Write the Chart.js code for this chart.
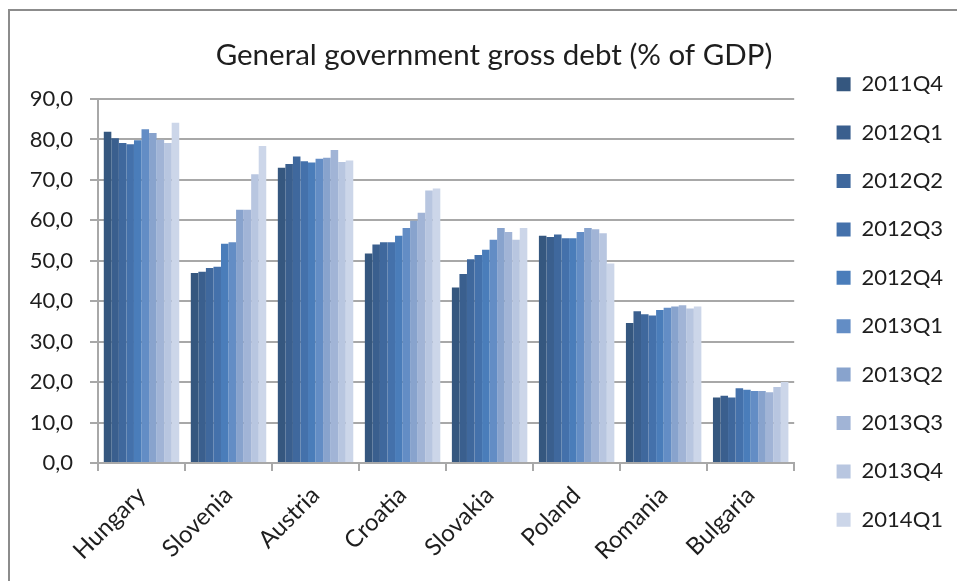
<!DOCTYPE html>
<html lang="en">
<head>
<meta charset="UTF-8" />
<title>General government gross debt (% of GDP)</title>
<script src="https://cdn.jsdelivr.net/npm/chart.js@4.4.1/dist/chart.umd.min.js"></script>
<style>
  html, body { margin: 0; padding: 0; background: #fff; }
  #wrap { position: relative; width: 957px; height: 581px; overflow: hidden; }
  #frame { position: absolute; left: 8px; top: 9px; width: 960px; height: 600px; border: 2px solid #8c8c8c; }
  canvas { position: absolute; left: 0; top: 0; }
</style>
</head>
<body>
<div id="wrap">
  <div id="frame"></div>
  <canvas id="debtChart" width="957" height="581"></canvas>
</div>
<script>
  const countries = ["Hungary", "Slovenia", "Austria", "Croatia", "Slovakia", "Poland", "Romania", "Bulgaria"];
  const quarters = ["2011Q4", "2012Q1", "2012Q2", "2012Q3", "2012Q4", "2013Q1", "2013Q2", "2013Q3", "2013Q4", "2014Q1"];

  // % of GDP, one value per quarter
  const hungary  = [81.9, 80.3, 79.1, 78.8, 79.8, 82.5, 81.6, 79.9, 79.1, 84.1];
  const slovenia = [47.0, 47.3, 48.2, 48.5, 54.2, 54.6, 62.6, 62.6, 71.4, 78.4];
  const austria  = [73.0, 73.9, 75.8, 74.6, 74.3, 75.2, 75.5, 77.4, 74.4, 74.8];
  const croatia  = [51.8, 54.0, 54.6, 54.6, 56.2, 58.1, 59.9, 61.9, 67.4, 67.9];
  const slovakia = [43.4, 46.7, 50.4, 51.4, 52.7, 55.2, 58.1, 57.1, 55.2, 58.1];
  const poland   = [56.2, 55.9, 56.5, 55.6, 55.6, 57.1, 58.1, 57.8, 56.8, 49.3];
  const romania  = [34.6, 37.5, 36.8, 36.5, 37.8, 38.4, 38.7, 39.0, 38.2, 38.7];
  const bulgaria = [16.2, 16.6, 16.2, 18.5, 18.1, 17.8, 17.8, 17.5, 18.8, 20.0];

  const blues = ["#35577f", "#3a5f8e", "#3f689d", "#4471ab", "#4a7dba",
                 "#638dc5", "#88a3cd", "#a1b4d6", "#b8c6e0", "#ccd6e9"];

  const byCountry = [hungary, slovenia, austria, croatia, slovakia, poland, romania, bulgaria];

  const datasets = quarters.map((q, i) => ({
    label: q,
    data: byCountry.map(c => c[i]),
    backgroundColor: blues[i],
    borderWidth: 0,
    categoryPercentage: 0.867,
    barPercentage: 1
  }));

  // give the legend a little extra room on its right so the title stays centred like the original
  const widenLegend = {
    id: "widenLegend",
    afterInit(chart) {
      const lg = chart.legend;
      const fit = lg.fit.bind(lg);
      lg.fit = () => { fit(); lg.width += 7; };
    }
  };

  Chart.defaults.font.family = "Lato, 'Open Sans', sans-serif";
  Chart.defaults.color = "#1e1e1e";

  new Chart(document.getElementById("debtChart"), {
    type: "bar",
    data: { labels: countries, datasets: datasets },
    plugins: [widenLegend],
    options: {
      responsive: false,
      animation: false,
      devicePixelRatio: 1,
      layout: { padding: { left: 28, top: 23, right: -3, bottom: 0 } },
      plugins: {
        title: {
          display: true,
          text: "General government gross debt (% of GDP)",
          font: { size: 29.5, weight: "normal" },
          color: "#1e1e1e",
          padding: { top: 14.3, bottom: 26.3 }
        },
        legend: {
          position: "right",
          labels: {
            boxWidth: 14,
            boxHeight: 14,
            padding: 26.4,
            font: { size: 22 },
            color: "#1e1e1e"
          }
        },
        tooltip: { enabled: false }
      },
      scales: {
        x: {
          grid: { drawOnChartArea: false, color: "#a8a8a8", lineWidth: 2, tickLength: 8 },
          border: { color: "#a8a8a8", width: 2 },
          ticks: { font: { size: 24 }, maxRotation: 45, minRotation: 45, autoSkip: false, padding: 10 },
          afterFit: s => { s.height = 118; }
        },
        y: {
          min: 0,
          max: 90,
          ticks: {
            stepSize: 10,
            font: { size: 22 },
            padding: 17,
            callback: v => v.toFixed(1).replace(".", ",")
          },
          grid: { color: "#a8a8a8", lineWidth: 2, tickLength: 8 },
          border: { color: "#a8a8a8", width: 2 },
          afterFit: s => { s.width = 70; }
        },
        y2: {
          position: "right",
          display: true,
          grid: { display: false },
          border: { display: false },
          ticks: { display: false },
          afterFit: s => { s.width = 16; }
        }
      }
    }
  });
</script>
</body>
</html>
